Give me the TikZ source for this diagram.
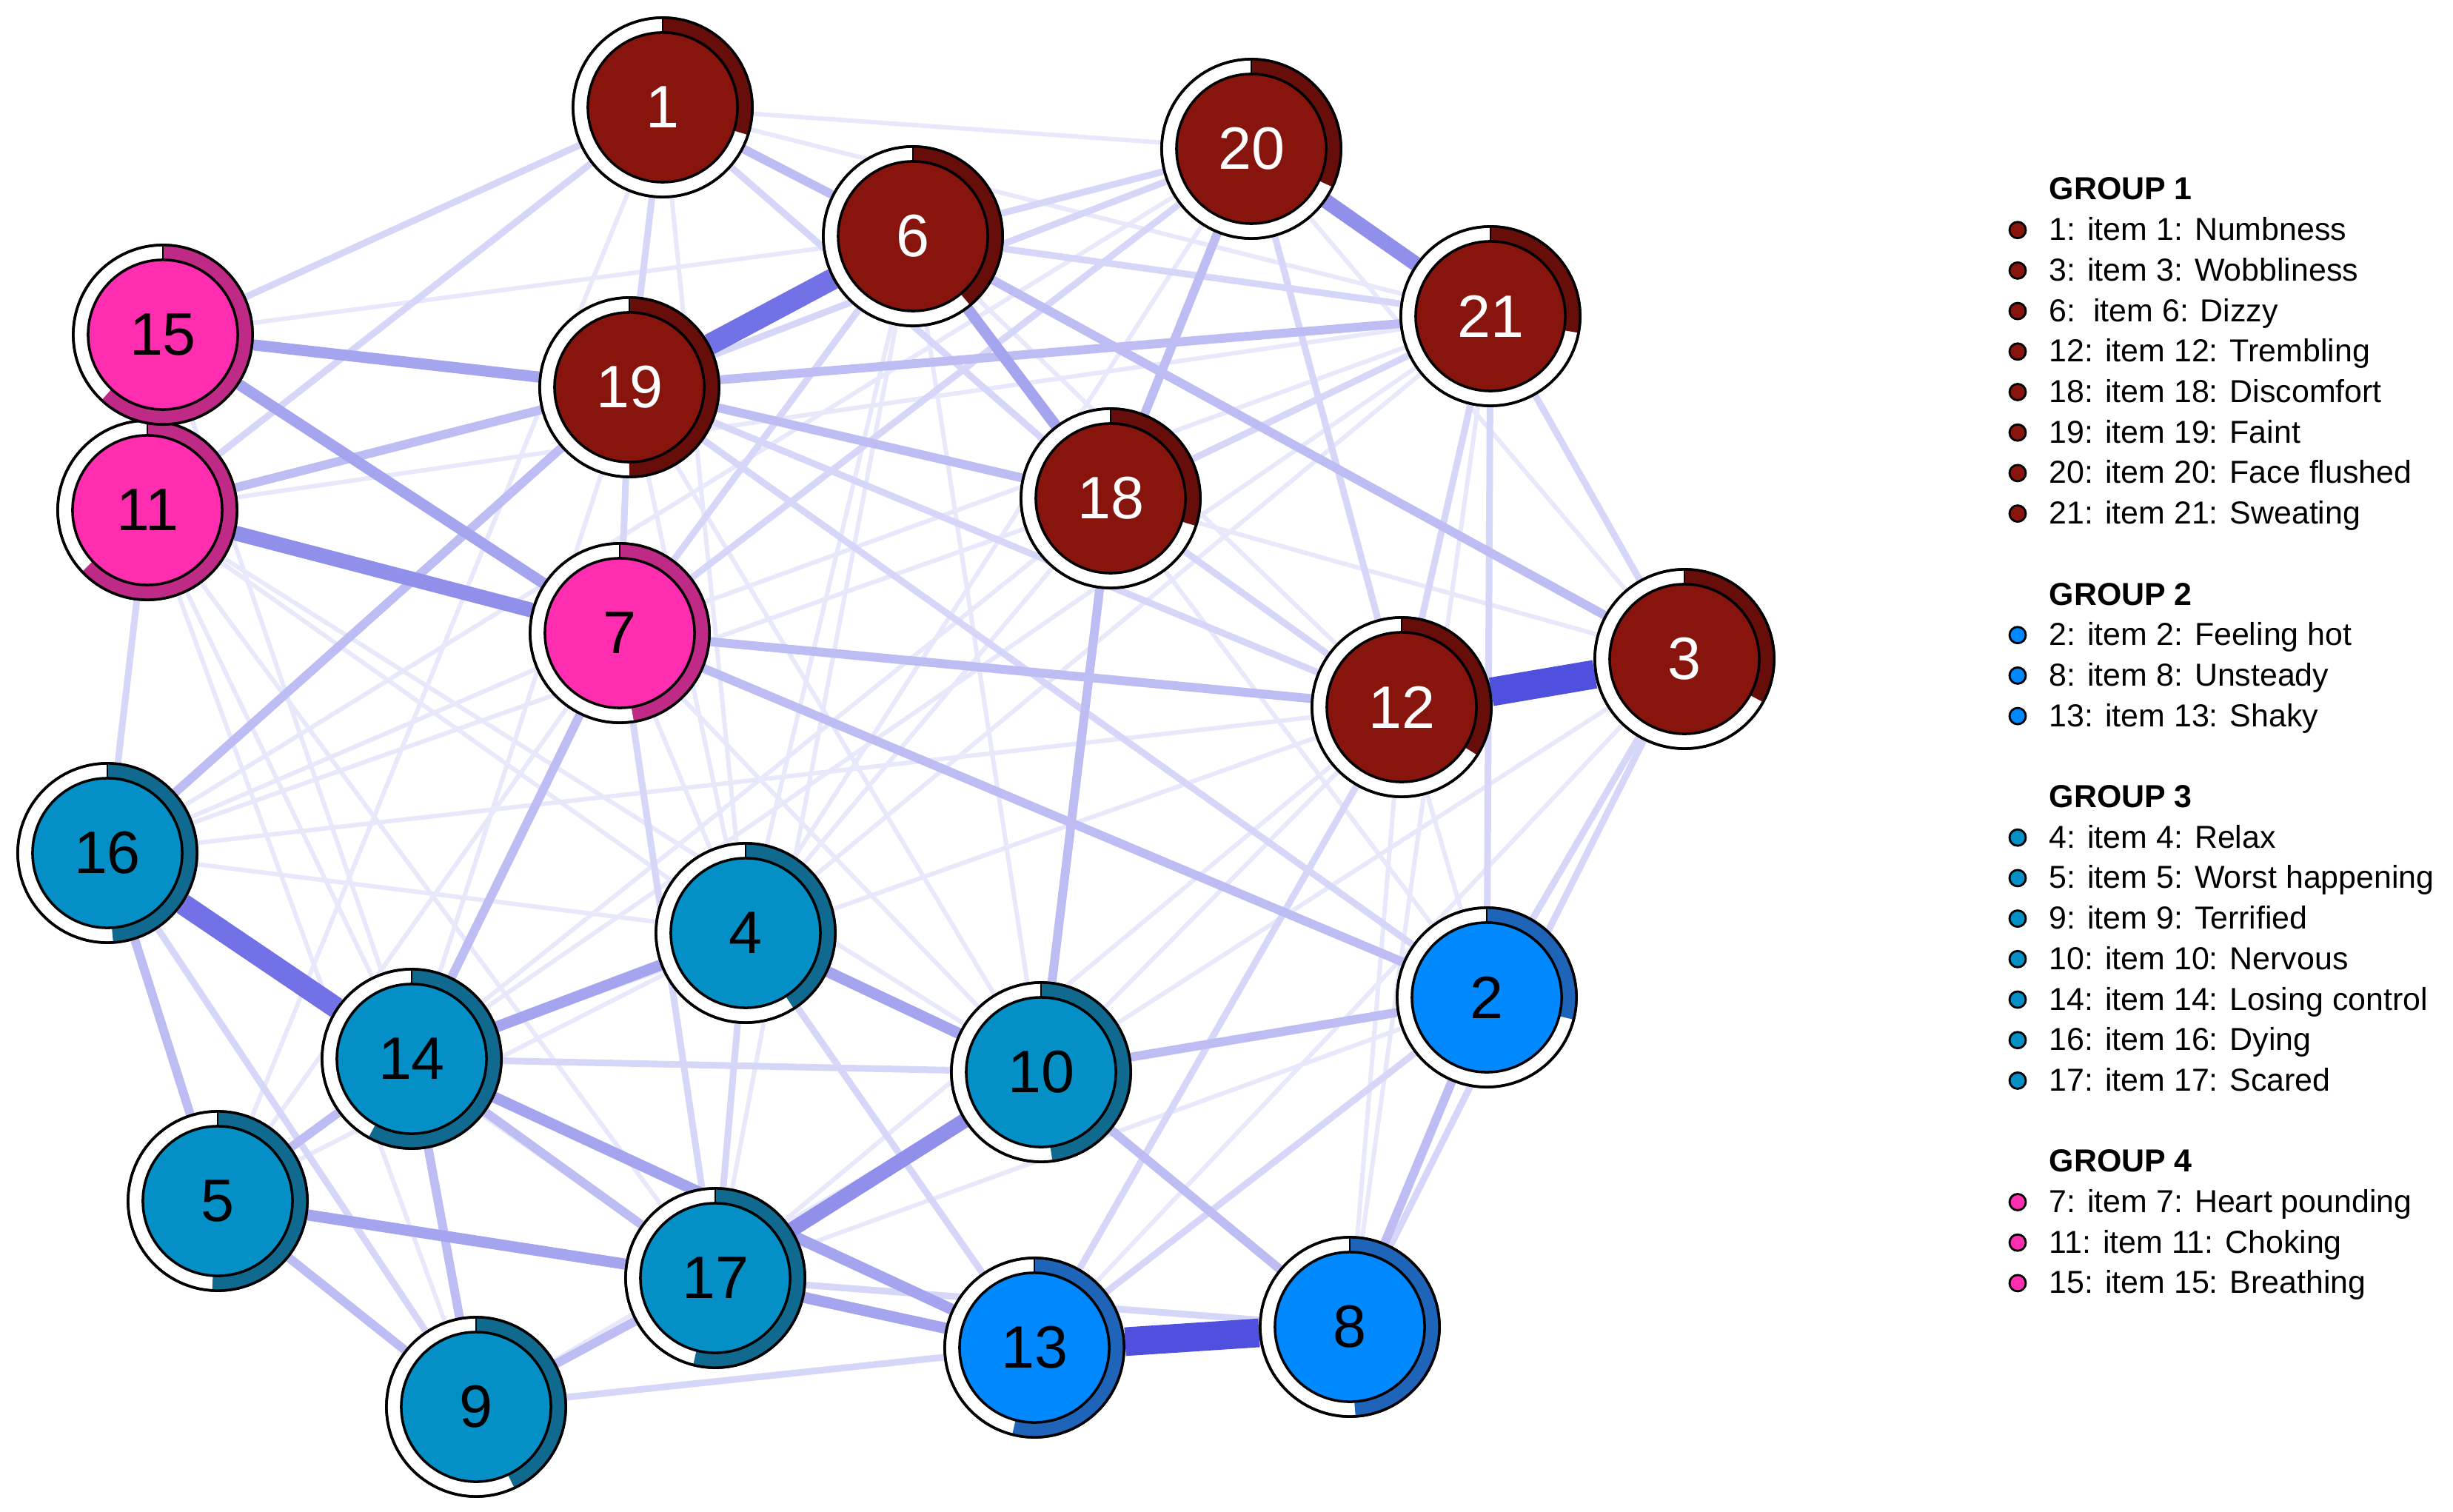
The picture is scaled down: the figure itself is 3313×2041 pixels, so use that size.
\documentclass[tikz,border=0pt]{standalone}
\usepackage{fontspec}
\setmainfont{Liberation Sans}
\definecolor{edgeblue}{RGB}{60,60,220}
\definecolor{fill1}{RGB}{135,21,14}
\definecolor{pie1}{RGB}{104,14,10}
\definecolor{fill2}{RGB}{0,136,255}
\definecolor{pie2}{RGB}{30,100,185}
\definecolor{fill3}{RGB}{4,144,198}
\definecolor{pie3}{RGB}{16,106,144}
\definecolor{fill4}{RGB}{255,45,176}
\definecolor{pie4}{RGB}{190,42,133}
\colorlet{txt1}{white}
\colorlet{txt2}{black}
\colorlet{txt3}{black}
\colorlet{txt4}{black}
\newcommand\numfont{\fontsize{23pt}{23pt}\selectfont}
\newcommand\legfont{\fontsize{12.2pt}{14pt}\selectfont}
\pgfdeclarelayer{back}
\pgfdeclarelayer{edges}
\pgfsetlayers{back,edges,main}
\begin{document}
\begin{tikzpicture}[x=0.01cm,y=0.01cm,
  e1/.style={line width=1.7pt,edgeblue!12},
  e2/.style={line width=2.56pt,edgeblue!21},
  e3/.style={line width=3.4pt,edgeblue!34},
  e4/.style={line width=4.27pt,edgeblue!46},
  e5/.style={line width=5.7pt,edgeblue!57},
  e6/.style={line width=8.2pt,edgeblue!72},
  e7/.style={line width=11pt,edgeblue!90},
  outer/.style={circle,draw=black,line width=1pt,minimum size=2.42cm,inner sep=0pt,fill=white},
  inner/.style={circle,draw=black,line width=1pt,minimum size=2.02cm,inner sep=0pt,font=\numfont},
  legtext/.style={anchor=base west,inner sep=0pt,font=\legfont},
  legdot/.style={circle,draw=black,line width=0.8pt,minimum size=0.22cm,inner sep=0pt}]
\useasboundingbox (0,0) rectangle (3313,2041);
\begin{pgfonlayer}{back}
\fill[white] (0,0) rectangle (3313,2041);
\end{pgfonlayer}
% nodes
\foreach \n/\x/\y/\g/\f in {
 1/895/1896/1/0.30, 2/2008/694/2/0.29, 3/2275/1151/1/0.33, 4/1007/781/3/0.41,
 5/294/419/3/0.51, 6/1233/1722/1/0.39, 7/837/1186/4/0.475, 8/1823/249/2/0.49,
 9/643/141/3/0.43, 10/1406/593/3/0.48, 11/199/1352/4/0.63, 12/1893/1086/1/0.34,
 13/1397/221/2/0.54, 14/556/611/3/0.58, 15/220/1589/4/0.62, 16/145/889/3/0.49,
 17/966/315/3/0.54, 18/1500/1368/1/0.30, 19/850/1518/1/0.50, 20/1690/1840/1/0.32,
 21/2013/1614/1/0.28}{
  \node[outer] (n\n) at (\x,\y) {};
  \draw[line width=0.2cm,pie\g] (n\n.center) ++(90:1.11cm) arc[start angle=90,delta angle={-360*\f},radius=1.11cm];
  \draw[line width=1pt] (n\n.center) circle[radius=1.21cm];
  \draw[line width=0.8pt] (n\n.center) ++(90:1.01cm) -- ++(90:0.2cm);
  \node[inner,fill=fill\g,text=txt\g] (t\n) at (n\n.center) {\n};
}
% edges
\begin{pgfonlayer}{edges}
\foreach \a/\b/\w in {
 1/20/1, 1/21/1, 15/6/1, 11/21/1, 11/14/1, 11/17/1, 11/4/1, 11/10/1, 7/21/1, 7/4/1,
 7/10/1, 7/16/1, 7/5/1, 6/17/1, 6/4/1, 6/12/1, 18/3/1, 18/2/1, 18/14/1, 12/8/1,
 12/2/1, 3/13/1, 21/8/1, 16/12/1, 16/4/1, 16/17/1, 14/12/1, 14/19/1, 5/4/1, 9/10/1,
 4/18/1, 4/21/1, 2/17/1, 10/12/1, 20/3/1, 1/4/1, 1/5/1, 19/10/1, 6/10/1, 21/14/1,
 20/16/1, 15/14/1, 11/9/1, 4/20/1, 3/10/1, 12/17/1, 19/4/1, 18/16/1,
 11/16/2, 1/15/2, 1/11/2, 19/12/2, 19/2/2, 7/6/2, 7/20/2, 7/19/2, 7/17/2, 4/13/2,
 16/9/2, 1/18/2, 20/6/2, 20/19/2, 14/10/2, 9/13/2, 18/12/2, 21/18/2, 21/12/2, 21/3/2,
 20/12/2, 6/21/2, 3/2/2, 3/8/2, 12/13/2, 2/13/2, 21/2/2, 17/8/2, 4/17/2, 1/19/2,
 5/9/3, 16/5/3, 14/9/3, 2/8/3, 10/8/3, 18/10/3, 20/18/3, 7/2/3, 11/19/3, 10/2/3,
 14/17/3, 5/14/3, 17/9/3, 16/19/3, 7/14/3, 1/6/3, 19/21/3, 19/18/3, 7/12/3, 6/3/3,
 14/13/4, 5/17/4, 17/13/4, 15/19/4, 15/7/4, 6/18/4, 4/10/4, 14/4/4,
 20/21/5, 11/7/5, 17/10/5,
 6/19/6, 16/14/6,
 12/3/7, 13/8/7}{
  \draw[e\w] (n\a) -- (n\b);
}
\end{pgfonlayer}
% legend
\foreach \k/\txt in {0/GROUP 1, 10/GROUP 2, 15/GROUP 3, 24/GROUP 4}{
  \pgfmathsetmacro\yy{1771-54.7*\k}
  \node[legtext,font=\legfont\bfseries] (H\k) at (2767,\yy) {\txt};
}
\foreach \k/\txt/\g in {
 1/{1: item 1: Numbness}/1, 2/{3: item 3: Wobbliness}/1, 3/{6:\ \ item 6: Dizzy}/1,
 4/{12: item 12: Trembling}/1, 5/{18: item 18: Discomfort}/1, 6/{19: item 19: Faint}/1,
 7/{20: item 20: Face flushed}/1, 8/{21: item 21: Sweating}/1,
 11/{2: item 2: Feeling hot}/2, 12/{8: item 8: Unsteady}/2, 13/{13: item 13: Shaky}/2,
 16/{4: item 4: Relax}/3, 17/{5: item 5: Worst happening}/3, 18/{9: item 9: Terrified}/3,
 19/{10: item 10: Nervous}/3, 20/{14: item 14: Losing control}/3, 21/{16: item 16: Dying}/3,
 22/{17: item 17: Scared}/3,
 25/{7: item 7: Heart pounding}/4, 26/{11: item 11: Choking}/4, 27/{15: item 15: Breathing}/4}{
  \pgfmathsetmacro\yy{1771-54.7*\k}
  \pgfmathsetmacro\yb{1785-54.7*\k}
  \node[legdot,fill=fill\g] (B\k) at (2725,\yb) {};
  \node[legtext] (L\k) at (2767,\yy) {\txt};
}
\end{tikzpicture}
\end{document}
